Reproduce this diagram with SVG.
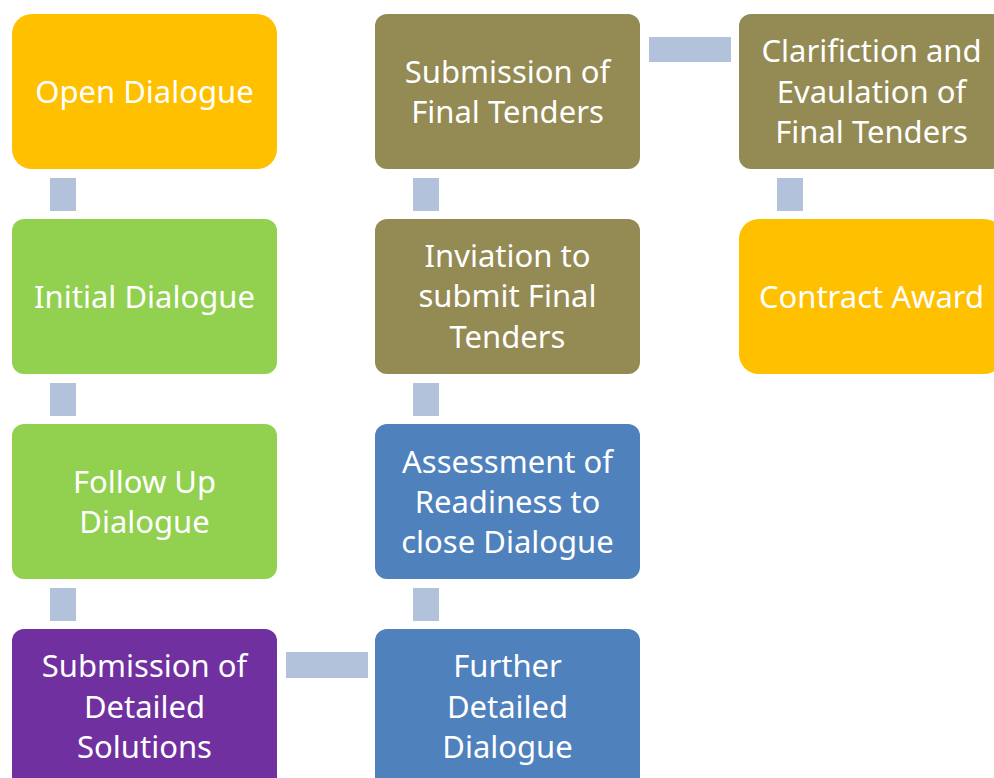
<svg xmlns="http://www.w3.org/2000/svg" width="994" height="778" viewBox="0 0 994 778">
<style>
.t{font-family:"Noto Sans","Open Sans","Liberation Sans",sans-serif;font-size:31px;fill:#FFFFFF;text-anchor:middle}
.c{fill:#B3C2DB}
.or{fill:#FFC000}
.gr{fill:#92D050}
.ol{fill:#948A54}
.bl{fill:#4F81BD}
.pu{fill:#7030A0}
</style>
<rect width="994" height="778" fill="#FFFFFF"/>
<g id="connectors">
<rect class="c" x="50" y="178" width="26" height="33"/>
<rect class="c" x="50" y="383" width="26" height="33"/>
<rect class="c" x="50" y="588" width="26" height="33"/>
<rect class="c" x="286" y="652" width="82" height="26"/>
<rect class="c" x="413" y="588" width="26" height="33"/>
<rect class="c" x="413" y="383" width="26" height="33"/>
<rect class="c" x="413" y="178" width="26" height="33"/>
<rect class="c" x="649" y="37" width="82" height="25"/>
<rect class="c" x="777" y="178" width="26" height="33"/>
</g>
<g id="n1"><rect class="or" x="12" y="14" width="265" height="155" rx="20"/>
<text class="t" x="144.5" y="103">Open Dialogue</text></g>
<g id="n2"><rect class="gr" x="12" y="219" width="265" height="155" rx="12"/>
<text class="t" x="144.5" y="308">Initial Dialogue</text></g>
<g id="n3"><rect class="gr" x="12" y="424" width="265" height="155" rx="12"/>
<text class="t" x="144.5" y="493">Follow Up</text><text class="t" x="144.5" y="533">Dialogue</text></g>
<g id="n4"><rect class="pu" x="12" y="629" width="265" height="160" rx="12"/>
<text class="t" x="144.5" y="677">Submission of</text><text class="t" x="144.5" y="718">Detailed</text><text class="t" x="144.5" y="758">Solutions</text></g>
<g id="n5"><rect class="bl" x="375" y="629" width="265" height="160" rx="12"/>
<text class="t" x="507.5" y="677">Further</text><text class="t" x="507.5" y="718">Detailed</text><text class="t" x="507.5" y="758">Dialogue</text></g>
<g id="n6"><rect class="bl" x="375" y="424" width="265" height="155" rx="12"/>
<text class="t" x="507.5" y="473">Assessment of</text><text class="t" x="507.5" y="513">Readiness to</text><text class="t" x="507.5" y="553">close Dialogue</text></g>
<g id="n7"><rect class="ol" x="375" y="219" width="265" height="155" rx="12"/>
<text class="t" x="507.5" y="267">Inviation to</text><text class="t" x="507.5" y="307">submit Final</text><text class="t" x="507.5" y="348">Tenders</text></g>
<g id="n8"><rect class="ol" x="375" y="14" width="265" height="155" rx="12"/>
<text class="t" x="507.5" y="83">Submission of</text><text class="t" x="507.5" y="123">Final Tenders</text></g>
<g id="n9"><rect class="ol" x="739" y="14" width="265" height="155" rx="12"/>
<text class="t" x="871.5" y="62">Clarifiction and</text><text class="t" x="871.5" y="103">Evaulation of</text><text class="t" x="871.5" y="143">Final Tenders</text></g>
<g id="n10"><rect class="or" x="739" y="219" width="265" height="155" rx="20"/>
<text class="t" x="871.5" y="308">Contract Award</text></g>
</svg>
